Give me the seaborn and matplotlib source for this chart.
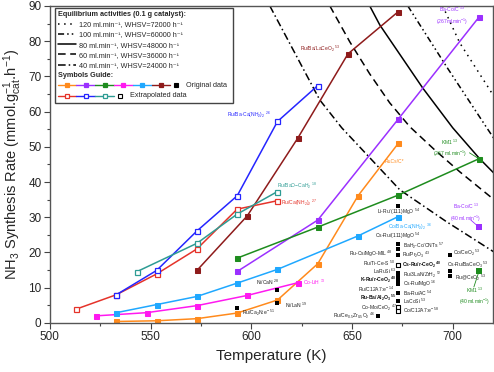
import matplotlib
matplotlib.use("Agg")
import matplotlib.pyplot as plt
import seaborn as sns
from matplotlib.legend_handler import HandlerBase
from matplotlib.lines import Line2D
from matplotlib.text import Text
from matplotlib.ticker import MultipleLocator

# -------------------------------
# Catalyst series (T in K, rate in mmol g-1 h-1)
# -------------------------------
ru_cs_c_T = [533, 553, 573, 593, 613, 633, 653, 673]
ru_cs_c_rate = [0.4, 0.6, 1.2, 2.8, 6.5, 16.8, 36.1, 51.0]

baco_c_T = [593, 633, 673, 713]
baco_c_rate = [14.6, 29.2, 57.9, 86.8]

km1_T = [593, 633, 673, 713]
km1_rate = [18.4, 27.2, 36.3, 46.6]

co_lih_T = [523, 548, 573, 598, 623]
co_lih_rate = [2.0, 2.9, 4.9, 7.8, 11.4]

co_baca_T = [533, 553, 573, 593, 613, 653, 673]
co_baca_rate = [2.9, 5.2, 7.5, 11.3, 15.2, 24.7, 30.2]

ru_ba_lace_T = [573, 598, 623, 648, 673]
ru_ba_lace_rate = [14.9, 30.4, 52.4, 76.4, 88.4]

# extrapolated series
ru_ca_T = [513, 533, 553, 573, 593, 613]
ru_ca_rate = [3.9, 8.0, 13.9, 21.0, 32.3, 34.7]

ru_baca_T = [533, 553, 573, 593, 613, 633]
ru_baca_rate = [8.0, 14.9, 26.1, 36.1, 57.2, 67.4]

ru_bao_T = [543, 573, 593, 613]
ru_bao_rate = [14.5, 22.6, 30.9, 37.3]

# single points at 40 ml/min
baco_40_T, baco_40_rate = [713], [27.2]
km1_40_T, km1_40_rate = [713], [14.6]

# literature points
lit_T = [593, 613, 613, 663, 673, 673, 673, 673, 673, 673, 673, 673, 673, 673, 698.5, 698.5, 698.5]
lit_rate = [4.2, 9.2, 5.6, 2.0, 33.2, 22.4, 21.0, 19.3, 14.2, 13.1, 11.9, 11.1, 8.5, 6.2, 19.3, 14.8, 13.3]
lit_open_T = [673, 673, 673]
lit_open_rate = [16.3, 4.4, 3.4]

# equilibrium curves
eq_120_T = [695, 703.5, 718.4, 720.3]
eq_120_rate = [90.0, 79.5, 66.2, 64.4]
eq_100_T = [677.7, 697.0, 716.9, 720.3]
eq_100_rate = [90.0, 72.7, 55.4, 52.5]
eq_80_T = [658.8, 663.8, 685.1, 700.0, 713.4, 720.3]
eq_80_rate = [90.0, 84.6, 66.7, 55.4, 46.6, 42.6]
eq_60_T = [639.0, 648.9, 658.8, 668.7, 678.7, 691.1, 703.5, 719.4]
eq_60_rate = [90.0, 79.8, 70.7, 62.5, 55.7, 49.1, 42.9, 35.5]
eq_40_T = [609.2, 634.0, 644.9, 673.7, 697.0, 720.3]
eq_40_rate = [90.0, 63.3, 55.4, 37.8, 28.7, 20.2]

eq_labels = ["120 ml.min⁻¹, WHSV=72000 h⁻¹",
             "100 ml.min⁻¹, WHSV=60000 h⁻¹",
             "80 ml.min⁻¹, WHSV=48000 h⁻¹",
             "60 ml.min⁻¹, WHSV=36000 h⁻¹",
             "40 ml.min⁻¹, WHSV=24000 h⁻¹"]
eq_styles = [(0, (1, 3)), (0, (4, 2, 1, 2, 1, 2)), "-", (0, (5, 3)), (0, (5, 2, 1, 2))]

# colours
c_orange = "#FF8A1C"
c_purple = "#9B30FF"
c_green = "#1E8C1E"
c_magenta = "#FF19F0"
c_lblue = "#1FA8FF"
c_maroon = "#8E1B1B"
c_red = "#E5332A"
c_blue = "#2525FF"
c_teal = "#2E9C94"
c_txt = "#222222"

# label text placed on the chart: (text, T, rate, ha, colour, weight)
labels = [
    ("Ru/Ba-Ca(NH$_2$)$_2$ $^{26}$", 587.8, 59.1, "left", c_blue, "normal"),
    ("Ru/Ba/LaCeO$_2$ $^{53}$", 624.1, 77.8, "left", c_maroon, "normal"),
    ("Ba-Co/C $^{13}$\n(267ml.min$^{-1}$)", 699.5, 87.2, "center", c_purple, "normal"),
    ("KM1 $^{13}$\n(267 ml.min$^{-1}$)", 698.5, 49.6, "center", c_green, "normal"),
    ("RuCs/C*", 666.3, 45.7, "left", c_orange, "normal"),
    ("Ru/BaO$-$CaH$_2$ $^{18}$", 612.7, 38.9, "left", c_teal, "normal"),
    ("Ru/Ca(NH$_2$)$_2$ $^{27}$", 614.6, 34.1, "left", c_red, "normal"),
    ("Co/Ba-Ca(NH$_2$)$_2$ $^{36}$", 667.7, 27.3, "left", c_lblue, "normal"),
    ("Co-LiH $^{13}$", 625.5, 11.4, "left", c_magenta, "normal"),
    ("Ba-Co/C $^{13}$\n(40 ml.min$^{-1}$)", 706.5, 31.3, "center", c_purple, "normal"),
    ("KM1 $^{13}$\n(40 ml.min$^{-1}$)", 711.0, 7.6, "center", c_green, "normal"),
    ("Ni/CaN $^{28}$", 614.1, 11.4, "right", c_txt, "normal"),
    ("Ni/LaN $^{19}$", 616.6, 5.1, "left", c_txt, "normal"),
    ("Ru/Ca$_2$N:e$^{-}$ $^{51}$", 595.3, 2.8, "left", c_txt, "normal"),
    ("Ru/Ce$_{0.5}$Zr$_{0.5}$O$_2$ $^{46}$", 661.3, 2.0, "right", c_txt, "normal"),
    ("Li-Ru/(111)MgO $^{54}$", 672.9, 31.4, "center", c_txt, "normal"),
    ("Cs-Ru/(111)MgO $^{54}$", 672.9, 24.7, "center", c_txt, "normal"),
    ("BaH$_2$-Co/CNTs $^{57}$", 675.2, 22.0, "left", c_txt, "normal"),
    ("Ru-Cs/MgO-MIL $^{48}$", 670.2, 19.7, "right", c_txt, "normal"),
    ("Ru/Pr$_2$O$_3$ $^{43}$", 674.7, 19.2, "left", c_txt, "normal"),
    ("Co/CeO$_2$ $^{53}$", 700.0, 19.9, "left", c_txt, "normal"),
    ("Ru/Ti-Ce-S $^{50}$", 671.2, 17.0, "right", c_txt, "normal"),
    ("Cs-Ru/r-CeO$_2$ $^{40}$", 674.7, 16.5, "left", "#111111", "bold"),
    ("Cs-Ru/BaCeO$_3$ $^{53}$", 697.0, 16.6, "left", c_txt, "normal"),
    ("LaRuSi $^{63}$", 672.2, 14.5, "right", c_txt, "normal"),
    ("Ru/3LaN/ZrH$_2$ $^{52}$", 675.2, 13.5, "left", c_txt, "normal"),
    ("K-Ru/r-CeO$_2$ $^{40}$", 672.2, 12.1, "right", "#111111", "bold"),
    ("Ru@CeO$_2$ $^{53}$", 701.0, 12.8, "left", c_txt, "normal"),
    ("Cs-Ru/MgO $^{16}$", 675.2, 11.0, "left", c_txt, "normal"),
    ("Ru/C12A7:e$^{-}$ $^{14}$", 671.2, 9.4, "right", c_txt, "normal"),
    ("Ba-Ru/AC $^{54}$", 675.2, 8.5, "left", c_txt, "normal"),
    ("Ru-Ba/Al$_2$O$_3$ $^{55}$", 672.2, 7.0, "right", "#111111", "bold"),
    ("LaCoSi $^{53}$", 675.2, 6.1, "left", c_txt, "normal"),
    ("Co-Mo/CeO$_2$ $^{47}$", 672.2, 4.4, "right", c_txt, "normal"),
    ("Co/C12A7:e$^{-}$ $^{58}$", 675.2, 3.7, "left", c_txt, "normal"),
]

# -------------------------------
# Style
# -------------------------------
sns.set_theme(style="ticks")
plt.rcParams["font.family"] = ["Liberation Sans", "DejaVu Sans"]
plt.rcParams["mathtext.fontset"] = "custom"
plt.rcParams["mathtext.rm"] = "Liberation Sans"
plt.rcParams["mathtext.it"] = "Liberation Sans:italic"
plt.rcParams["mathtext.bf"] = "Liberation Sans:bold"
plt.rcParams["mathtext.default"] = "regular"


class SymbolRow:
    def __init__(self, colors, filled, text):
        self.colors = colors
        self.filled = filled
        self.text = text


class GuideTitle:
    def __init__(self, text):
        self.text = text


class SymbolRowHandler(HandlerBase):
    def create_artists(self, legend, h, xd, yd, width, height, fontsize, trans):
        y = height / 2 - yd
        x = -xd
        arts = []
        for c in h.colors:
            arts.append(Line2D([x, x + width], [y, y], color=c, lw=1.0))
            arts.append(Line2D([x + width / 2], [y], marker="s", ms=2.8, color=c,
                               mfc=c if h.filled else "white", mec=c, mew=0.9))
            x += width
        x += width * 0.3
        arts.append(Line2D([x], [y], marker="s", ms=2.8, color="black",
                           mfc="black" if h.filled else "white", mec="black", mew=0.8))
        arts.append(Text(x + width * 0.55, y, h.text, fontsize=fontsize, va="center", ha="left"))
        for a in arts:
            a.set_transform(trans)
        return arts


class GuideTitleHandler(HandlerBase):
    def create_artists(self, legend, h, xd, yd, width, height, fontsize, trans):
        t = Text(-xd, height / 2 - yd, h.text, fontsize=fontsize, weight="bold", va="center", ha="left")
        t.set_transform(trans)
        return [t]


fig, ax = plt.subplots(figsize=(4.94, 3.72), dpi=100)
fig.subplots_adjust(left=0.101, right=0.998, bottom=0.132, top=0.984)

# equilibrium curves
eq_series = [(eq_120_T, eq_120_rate), (eq_100_T, eq_100_rate), (eq_80_T, eq_80_rate),
             (eq_60_T, eq_60_rate), (eq_40_T, eq_40_rate)]
for (T, r), ls in zip(eq_series, eq_styles):
    sns.lineplot(x=T, y=r, ax=ax, color="black", linewidth=1.1, linestyle=ls,
                 sort=False, estimator=None)

# original data series (filled squares)
filled_series = [(ru_cs_c_T, ru_cs_c_rate, c_orange), (baco_c_T, baco_c_rate, c_purple),
                 (km1_T, km1_rate, c_green), (co_lih_T, co_lih_rate, c_magenta),
                 (co_baca_T, co_baca_rate, c_lblue), (ru_ba_lace_T, ru_ba_lace_rate, c_maroon)]
for T, r, c in filled_series:
    sns.lineplot(x=T, y=r, ax=ax, color=c, linewidth=1.1, marker="s", markersize=3.6,
                 markerfacecolor=c, markeredgecolor=c, sort=False, estimator=None)

# extrapolated series (open squares)
open_series = [(ru_ca_T, ru_ca_rate, c_red), (ru_baca_T, ru_baca_rate, c_blue),
               (ru_bao_T, ru_bao_rate, c_teal)]
for T, r, c in open_series:
    sns.lineplot(x=T, y=r, ax=ax, color=c, linewidth=1.1, marker="s", markersize=3.6,
                 markerfacecolor="white", markeredgecolor=c, markeredgewidth=0.9,
                 sort=False, estimator=None)

# single 40 ml/min points
sns.scatterplot(x=baco_40_T, y=baco_40_rate, ax=ax, marker="s", color=c_purple, s=14, linewidth=0, zorder=5)
sns.scatterplot(x=km1_40_T, y=km1_40_rate, ax=ax, marker="s", color=c_green, s=14, linewidth=0, zorder=5)

# literature data
sns.scatterplot(x=lit_T, y=lit_rate, ax=ax, marker="s", color="black", s=12, linewidth=0, zorder=5)
sns.scatterplot(x=lit_open_T, y=lit_open_rate, ax=ax, marker="s", facecolor="white",
                edgecolor="black", s=10, linewidth=0.8, zorder=5)

# labels
for text, x, y, ha, c, w in labels:
    ax.text(x, y, text, fontsize=3.6, color=c, ha=ha, va="center", weight=w,
            linespacing=1.3, zorder=6)

# leader lines from the 40 ml/min labels
ax.annotate("", xy=(baco_40_T[0], baco_40_rate[0]), xytext=(709, 29.2),
            arrowprops=dict(arrowstyle="-", color=c_purple, lw=0.6, shrinkA=0, shrinkB=1.5))
ax.annotate("", xy=(km1_40_T[0], km1_40_rate[0]), xytext=(710.5, 10.2),
            arrowprops=dict(arrowstyle="-", color=c_green, lw=0.6, shrinkA=0, shrinkB=1.5))
ax.annotate("", xy=(km1_T[-1], km1_rate[-1]), xytext=(708.3, 48.3),
            arrowprops=dict(arrowstyle="-", color=c_green, lw=0.6, shrinkA=0, shrinkB=1.5))

# axes
ax.set_xlim(500, 720)
ax.set_ylim(0, 90)
ax.xaxis.set_major_locator(MultipleLocator(50))
ax.xaxis.set_minor_locator(MultipleLocator(25))
ax.yaxis.set_major_locator(MultipleLocator(10))
ax.yaxis.set_minor_locator(MultipleLocator(5))
ax.tick_params(which="major", length=4, width=0.8, labelsize=8.5, color="#444444", pad=2)
ax.tick_params(which="minor", length=2.5, width=0.8, color="#444444")
for s in ax.spines.values():
    s.set_color("#555555")
    s.set_linewidth(1.0)
ax.set_xlabel("Temperature (K)", fontsize=11, labelpad=4)
ax.set_ylabel("NH$_3$ Synthesis Rate (mmol.g$_{cat}^{-1}$.h$^{-1}$)", fontsize=10.5, labelpad=3)

# legend
eq_handles = [Line2D([], [], color="black", lw=1.1, ls=ls) for ls in eq_styles]
row1 = SymbolRow([c_orange, c_purple, c_green, c_magenta, c_lblue, c_maroon], True, "Original data")
row2 = SymbolRow([c_red, c_blue, c_teal], False, "Extrapolated data")
guide = GuideTitle("Symbols Guide:")
leg = ax.legend(eq_handles + [guide, row1, row2], eq_labels + ["", "", ""],
                handler_map={SymbolRow: SymbolRowHandler(), GuideTitle: GuideTitleHandler()},
                loc="upper left", bbox_to_anchor=(0.011, 0.703, 0.402, 0.291), mode="expand",
                title="Equilibrium activities (0.1 g catalyst):", alignment="left",
                title_fontproperties={"weight": "bold", "size": 5.2}, fontsize=5.2,
                handlelength=2.6, handletextpad=0.3, labelspacing=0.45, borderpad=0.4,
                borderaxespad=0, fancybox=False, framealpha=1, edgecolor="#444444")
leg.get_frame().set_linewidth(1.0)

plt.savefig("out.png", dpi=100)
